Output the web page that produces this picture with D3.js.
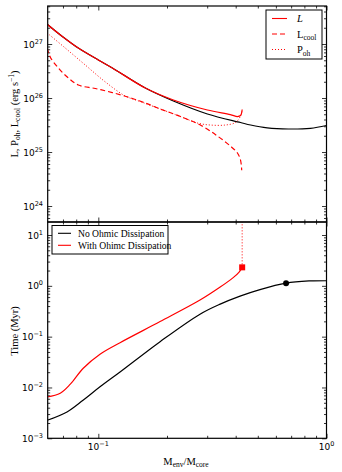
<!DOCTYPE html>
<html>
<head>
<meta charset="utf-8">
<script src="https://cdn.jsdelivr.net/npm/d3@7"></script>
<style>
  body { margin: 0; background: #fff; }
  svg { display: block; }
</style>
</head>
<body>
<svg id="chart" width="342" height="472"></svg>
<script>
// --- top panel data (M_env/M_core vs erg/s) ---
const lumM    = [0.0597, 0.07, 0.0817, 0.1, 0.1152, 0.1607, 0.2133, 0.3006, 0.379, 0.407, 0.42, 0.427];
const lumOhm  = [2.32e27, 1.35e27, 8.4e26, 5.06e26, 3.6e26, 1.53e26, 9.2e25, 6.0e25, 4.94e25, 4.54e25, 4.74e25, 6.12e25];

const lumNoM  = [0.0597, 0.07, 0.0817, 0.1, 0.1152, 0.1607, 0.2133, 0.3006, 0.42, 0.465, 0.55, 0.68, 0.85, 1.0];
const lumNo   = [2.32e27, 1.35e27, 8.4e26, 5.06e26, 3.6e26, 1.53e26, 8.8e25, 5.06e25, 3.52e25, 3.16e25, 2.8e25, 2.67e25, 2.75e25, 3.1e25];

const coolM   = [0.0597, 0.0616, 0.0668, 0.0731, 0.0817, 0.097, 0.1152, 0.141, 0.1607, 0.187, 0.229, 0.28, 0.3326, 0.379, 0.407, 0.42, 0.425];
const coolL   = [8.4e26, 5.7e26, 3.6e26, 2.45e26, 1.74e26, 1.5e26, 1.26e26, 9.8e25, 8.07e25, 6.25e25, 4.54e25, 3.16e25, 1.98e25, 1.29e25, 9.6e24, 7.1e24, 4.6e24];

const pohM    = [0.0597, 0.0717, 0.0877, 0.1074, 0.1313, 0.1528, 0.187, 0.229, 0.272, 0.31, 0.36, 0.399, 0.42, 0.427];
const pohL    = [1.6e27, 8.4e26, 4.08e26, 1.98e26, 1.09e26, 8.6e25, 6.25e25, 4.54e25, 3.44e25, 3.16e25, 3.16e25, 3.52e25, 4.64e25, 6.0e25];

// --- bottom panel data (time in Myr) ---
const timeOhmM = [0.0597, 0.0681, 0.0754, 0.0859, 0.1017, 0.1245, 0.1865, 0.279, 0.342, 0.39, 0.414, 0.427];
const timeOhm  = [6.5e-3, 7.7e-3, 1.16e-2, 2.39e-2, 4.52e-2, 7.62e-2, 0.198, 0.524, 0.945, 1.45, 1.87, 2.31];

const timeNoM  = [0.0597, 0.0729, 0.0857, 0.1017, 0.1245, 0.1865, 0.279, 0.342, 0.418, 0.511, 0.665, 0.846, 1.0];
const timeNo   = [2.26e-3, 3.3e-3, 5.6e-3, 1.03e-2, 2.02e-2, 7.97e-2, 0.277, 0.437, 0.628, 0.844, 1.13, 1.25, 1.27];

const stopOhm = [0.427, 2.31];   // square marker, end of ohmic run
const stopNo  = [0.665, 1.13];   // dot marker

const xMajor = [0.1, 1];
const topMajor = [1e24, 1e25, 1e26, 1e27];
const botMajor = [1e-3, 1e-2, 1e-1, 1, 10];

const RED = "#ff0000";
const svg = d3.select("#chart");

const left = 47.7, right = 326.5;
const x = d3.scaleLog().domain([0.06, 1]).range([left, right]);
const yTop = d3.scaleLog().domain([Math.pow(10, 23.704), Math.pow(10, 27.704)]).range([222, 6]);
const yBot = d3.scaleLog().domain([1e-3, Math.pow(10, 1.256)]).range([438.3, 222]);

// minor ticks for a log domain
function minors(scale) {
  const [a, b] = scale.domain();
  const out = [];
  for (let e = Math.floor(Math.log10(a)); e <= Math.ceil(Math.log10(b)); e++) {
    for (let k = 2; k <= 9; k++) {
      const v = k * Math.pow(10, e);
      if (v > a && v < b) out.push(v);
    }
  }
  return out;
}

function expLabel(sel, e) {
  sel.append("tspan").text("10");
  sel.append("tspan").attr("dy", -4).attr("font-size", 6.5)
    .text(e < 0 ? "\u2212" + (-e) : e);
}

function panel(y, yMajor, clipId) {
  const [y0, y1] = y.range();
  const g = svg.append("g");

  svg.append("clipPath").attr("id", clipId)
    .append("rect").attr("x", left).attr("y", y1).attr("width", right - left).attr("height", y0 - y1);

  // ticks, inward on all four sides
  const ax = [
    [d3.axisBottom(x), `translate(0,${y0})`, xMajor, minors(x)],
    [d3.axisTop(x), `translate(0,${y1})`, xMajor, minors(x)],
    [d3.axisLeft(y), `translate(${left},0)`, yMajor, minors(y)],
    [d3.axisRight(y), `translate(${right},0)`, yMajor, minors(y)]
  ];
  ax.forEach(([gen, tr, maj, mnr]) => {
    g.append("g").attr("transform", tr)
      .call(gen.tickValues(maj).tickSize(-4.5).tickFormat(""))
      .call(s => s.select(".domain").remove());
    g.append("g").attr("transform", tr)
      .call(gen.tickValues(mnr).tickSize(-2.5).tickFormat(""))
      .call(s => s.select(".domain").remove());
  });
  g.selectAll(".tick line").attr("stroke", "#000").attr("stroke-width", 0.8);

  // y tick labels
  yMajor.forEach(v => {
    const t = svg.append("text")
      .attr("x", 43).attr("y", y(v) + 3.5)
      .attr("text-anchor", "end")
      .attr("font-family", "DejaVu Sans").attr("font-size", 9);
    expLabel(t, Math.round(Math.log10(v)));
  });

  return { g, clip: `url(#${clipId})` };
}

const topPanel = panel(yTop, topMajor, "clipTop");
const botPanel = panel(yBot, botMajor, "clipBot");

function drawLine(target, y, ms, vs, color, dash, width) {
  const pts = ms.map((m, i) => [m, vs[i]]);
  svg.append("path")
    .attr("clip-path", target.clip)
    .attr("d", d3.line().x(d => x(d[0])).y(d => y(d[1])).curve(d3.curveCatmullRom.alpha(0.5))(pts))
    .attr("fill", "none")
    .attr("stroke", color)
    .attr("stroke-width", width || 1.2)
    .attr("stroke-dasharray", dash || null);
}

// top panel curves
drawLine(topPanel, yTop, lumNoM, lumNo, "#000");
drawLine(topPanel, yTop, coolM, coolL, RED, "5,3");
drawLine(topPanel, yTop, pohM, pohL, RED, "1,2", 1);
drawLine(topPanel, yTop, lumM, lumOhm, RED);

// bottom panel curves
drawLine(botPanel, yBot, timeNoM, timeNo, "#000");
drawLine(botPanel, yBot, timeOhmM, timeOhm, RED);
svg.append("line")
  .attr("clip-path", botPanel.clip)
  .attr("x1", x(stopOhm[0])).attr("x2", x(stopOhm[0]))
  .attr("y1", yBot(stopOhm[1])).attr("y2", yBot.range()[1])
  .attr("stroke", RED).attr("stroke-width", 1).attr("stroke-dasharray", "1,2");
svg.append("rect")
  .attr("x", x(stopOhm[0]) - 3).attr("y", yBot(stopOhm[1]) - 3)
  .attr("width", 6).attr("height", 6).attr("fill", RED);
svg.append("circle")
  .attr("cx", x(stopNo[0])).attr("cy", yBot(stopNo[1])).attr("r", 3).attr("fill", "#000");

// frames
[yTop, yBot].forEach(y => {
  const [y0, y1] = y.range();
  svg.append("rect").attr("x", left).attr("y", y1).attr("width", right - left).attr("height", y0 - y1)
    .attr("fill", "none").attr("stroke", "#000").attr("stroke-width", 1.2);
});

// x tick labels
xMajor.forEach(v => {
  const t = svg.append("text")
    .attr("x", x(v)).attr("y", 449.5)
    .attr("text-anchor", "middle")
    .attr("font-family", "DejaVu Sans").attr("font-size", 9);
  expLabel(t, Math.round(Math.log10(v)));
});

// axis titles
const serif = "Liberation Serif";
const xt = svg.append("text").attr("x", 186).attr("y", 465).attr("text-anchor", "middle")
  .attr("font-family", serif).attr("font-size", 10.5);
xt.append("tspan").text("M");
xt.append("tspan").attr("dy", 2).attr("font-size", 7.5).text("env");
xt.append("tspan").attr("dy", -2).text("/M");
xt.append("tspan").attr("dy", 2).attr("font-size", 7.5).text("core");

const yt = svg.append("text").attr("transform", "translate(18,114) rotate(-90)")
  .attr("text-anchor", "middle").attr("font-family", serif).attr("font-size", 10.5);
yt.append("tspan").text("L, P");
yt.append("tspan").attr("dy", 2).attr("font-size", 7.5).text("oh");
yt.append("tspan").attr("dy", -2).text(", L");
yt.append("tspan").attr("dy", 2).attr("font-size", 7.5).text("cool");
yt.append("tspan").attr("dy", -2).text(" (erg s");
yt.append("tspan").attr("dy", -4).attr("font-size", 7.5).text("\u22121");
yt.append("tspan").attr("dy", 4).text(")");

svg.append("text").attr("transform", "translate(18,331) rotate(-90)")
  .attr("text-anchor", "middle").attr("font-family", serif).attr("font-size", 10.5)
  .text("Time (Myr)");

// legend, top panel
const lg1 = svg.append("g");
lg1.append("rect").attr("x", 266).attr("y", 10).attr("width", 56).attr("height", 49)
  .attr("fill", "#fff").attr("stroke", "#000").attr("stroke-width", 1);
const topKeys = [
  { dash: null, w: 1.1, main: "L", sub: "", italic: true },
  { dash: "5,3", w: 1.1, main: "L", sub: "cool" },
  { dash: "1,2", w: 1, main: "P", sub: "oh" }
];
topKeys.forEach((k, i) => {
  const yy = 18.5 + i * 15.5;
  lg1.append("line").attr("x1", 272).attr("x2", 287).attr("y1", yy).attr("y2", yy)
    .attr("stroke", RED).attr("stroke-width", k.w).attr("stroke-dasharray", k.dash);
  const t = lg1.append("text").attr("x", 297).attr("y", yy + 3.5)
    .attr("font-family", serif).attr("font-size", 10.5);
  t.append("tspan").attr("font-style", k.italic ? "italic" : null).text(k.main);
  if (k.sub) t.append("tspan").attr("dy", 2.5).attr("font-size", 7.5).text(k.sub);
});

// legend, bottom panel
const lg2 = svg.append("g");
lg2.append("rect").attr("x", 52).attr("y", 225.5).attr("width", 116).attr("height", 28.5)
  .attr("fill", "#fff").attr("stroke", "#000").attr("stroke-width", 1);
[["No Ohmic Dissipation", "#000"], ["With Ohimc Dissipation", RED]].forEach(([name, c], i) => {
  const yy = 233.3 + i * 12;
  lg2.append("line").attr("x1", 58).attr("x2", 71).attr("y1", yy).attr("y2", yy)
    .attr("stroke", c).attr("stroke-width", 1.1);
  lg2.append("text").attr("x", 78).attr("y", yy + 3.3)
    .attr("font-family", serif).attr("font-size", 9.6).text(name);
});
</script>
</body>
</html>
